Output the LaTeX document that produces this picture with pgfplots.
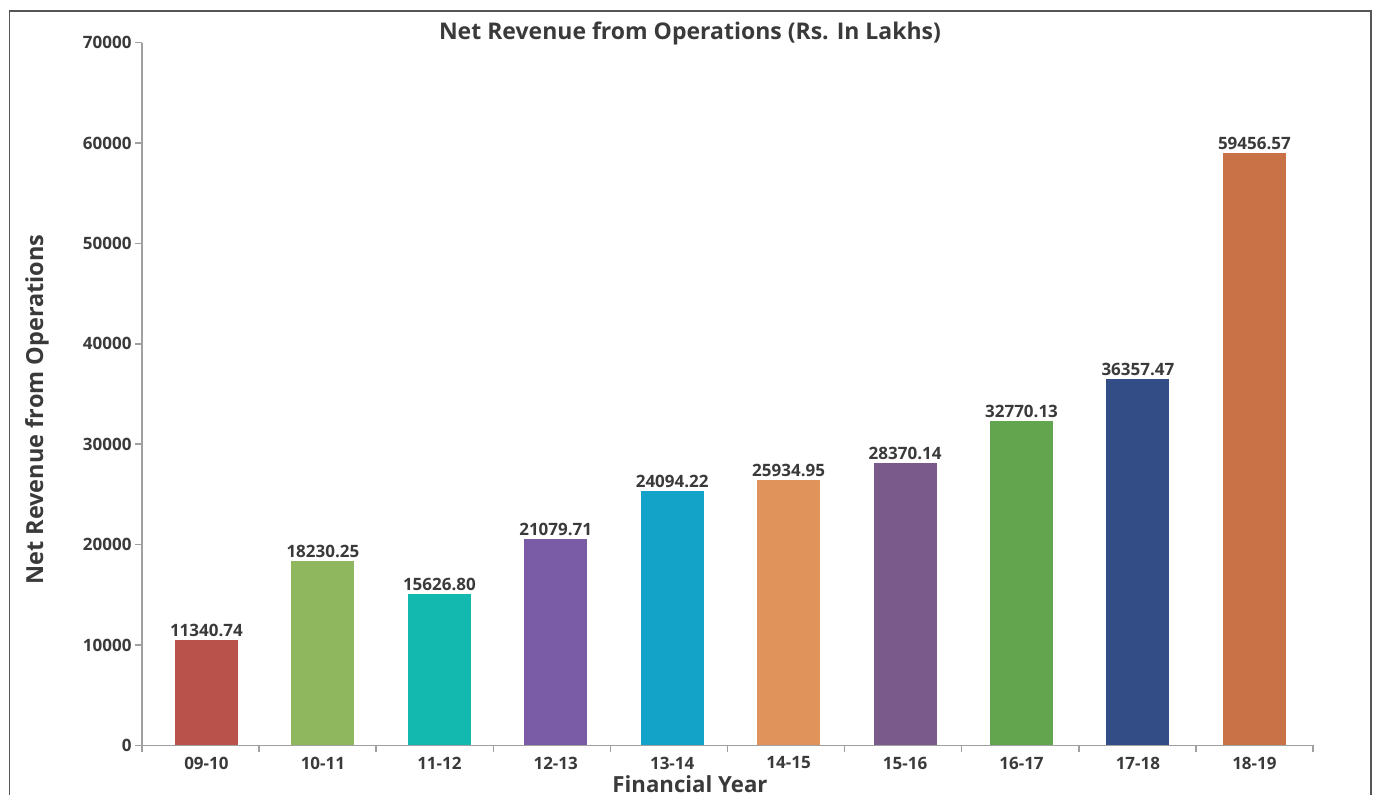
\documentclass[border=0pt]{standalone}
\usepackage{pgfplots}
\pgfplotsset{compat=1.18}
\usepackage{fontspec}
\setmainfont{Open Sans}
\definecolor{txt}{HTML}{3A3A3A}
\definecolor{axc}{HTML}{A0A0A0}
\definecolor{frm}{HTML}{555555}
\definecolor{c1}{HTML}{BA524C}
\definecolor{c2}{HTML}{8FB85E}
\definecolor{c3}{HTML}{13B9AE}
\definecolor{c4}{HTML}{7A5BA5}
\definecolor{c5}{HTML}{13A3C8}
\definecolor{c6}{HTML}{E0935A}
\definecolor{c7}{HTML}{795A8A}
\definecolor{c8}{HTML}{63A44E}
\definecolor{c9}{HTML}{334E86}
\definecolor{c10}{HTML}{CA7247}
\begin{document}
\begin{tikzpicture}[x=1pt,y=1pt]
\path[use as bounding box] (0,0) rectangle (1376,795);
\draw[frm, line width=1.5pt] (9.5,-2) -- (9.5,784) -- (1371,784) -- (1371,-2);
\begin{axis}[
  at={(142pt,49.7pt)}, anchor=south west,
  scale only axis, width=1171pt, height=702.6pt,
  ybar, bar shift=0pt, bar width=63pt,
  xmin=-0.5, xmax=9.5, ymin=0, ymax=70000,
  axis lines=left, axis line style={axc, line width=1.5pt, -},
  xtick={0.05,1.045,2.04,3.033,4.028,5.022,6.017,7.011,8.005,9.0},
  xticklabels={09-10,10-11,11-12,12-13,13-14,14-15,15-16,16-17,17-18,18-19},
  major x tick style={draw=none},
  minor xtick={-0.5,0.5,...,9.5},
  minor x tick style={axc, line width=1.5pt},
  minor tick length=7pt,
  ytick={0,10000,...,70000},
  y tick style={axc, line width=1.5pt},
  major tick length=7pt,
  tick align=outside,
  scaled y ticks=false,
  y tick label style={/pgf/number format/fixed, /pgf/number format/1000 sep={}, xshift=0pt},
  /pgf/number format/assume math mode=true,
  ticklabel style={font=\fontsize{17}{20}\selectfont\bfseries, text=txt},
  x tick label style={yshift=-1pt},
  nodes near coords,
  point meta=explicit symbolic,
  nodes near coords style={font=\fontsize{17}{20}\selectfont\bfseries, text=txt, anchor=south, inner sep=3.5pt},
  clip=false,
]
\addplot[fill=c1, draw=none] coordinates {(0.05,10491) [11340.74]};
\addplot[fill=c2, draw=none] coordinates {(1.045,18362) [18230.25]};
\addplot[fill=c3, draw=none] coordinates {(2.04,15074) [15626.80]};
\addplot[fill=c4, draw=none] coordinates {(3.033,20554) [21079.71]};
\addplot[fill=c5, draw=none] coordinates {(4.028,25336) [24094.22]};
\addplot[fill=c6, draw=none] coordinates {(5.022,26432) [25934.95]};
\addplot[fill=c7, draw=none] coordinates {(6.017,28126) [28370.14]};
\addplot[fill=c8, draw=none] coordinates {(7.011,32310) [32770.13]};
\addplot[fill=c9, draw=none] coordinates {(8.005,36495) [36357.47]};
\addplot[fill=c10, draw=none] coordinates {(9.0,59012) [59456.57]};
\end{axis}
\node[text=txt, font=\fontsize{23}{27}\selectfont\bfseries] at (690,762) {Net Revenue from Operations (Rs. In Lakhs)};
\node[text=txt, font=\fontsize{23.5}{27}\selectfont\bfseries, rotate=90] at (37,385.5) {Net Revenue from Operations};
\node[text=txt, font=\fontsize{22.2}{26}\selectfont\bfseries] at (690,11) {Financial Year};
\end{tikzpicture}
\end{document}
